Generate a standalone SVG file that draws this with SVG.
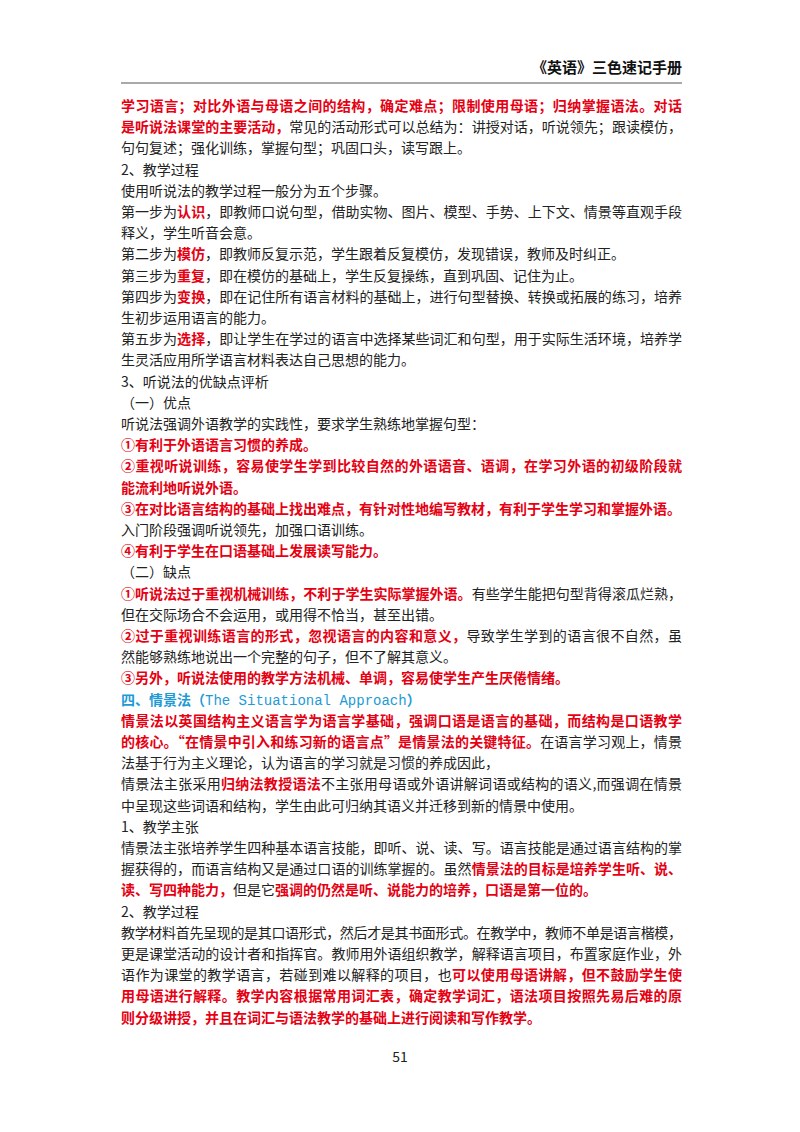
<svg xmlns="http://www.w3.org/2000/svg" width="800" height="1132" viewBox="0 0 800 1132">
<style>
text{font-family:"Noto Sans CJK SC","Liberation Sans",sans-serif;font-size:14px;fill:#222}
.r{fill:#e60012;font-weight:bold}
.b{fill:#1e9ad6;font-weight:bold}
.h{font-weight:bold;font-size:15px;fill:#111}
</style>
<rect width="800" height="1132" fill="#fff"/>
<text class="h" x="682" y="73" text-anchor="end">《英语》三色速记手册</text>
<line x1="121" y1="83" x2="682" y2="83" stroke="#555" stroke-width="1.2"/>
<g id="body">
<text x="121" y="111" textLength="561" lengthAdjust="spacing"><tspan class="r">学习语言；对比外语与母语之间的结构，确定难点；限制使用母语；归纳掌握语法。对话</tspan></text>
<text x="121" y="132.2" textLength="561" lengthAdjust="spacing"><tspan class="r">是听说法课堂的主要活动，</tspan>常见的活动形式可以总结为：讲授对话，听说领先；跟读模仿，</text>
<text x="121" y="153.4">句句复述；强化训练，掌握句型；巩固口头，读写跟上。</text>
<text x="121" y="174.6">2、教学过程</text>
<text x="121" y="195.8">使用听说法的教学过程一般分为五个步骤。</text>
<text x="121" y="217" textLength="561" lengthAdjust="spacing">第一步为<tspan class="r">认识</tspan>，即教师口说句型，借助实物、图片、模型、手势、上下文、情景等直观手段</text>
<text x="121" y="238.2">释义，学生听音会意。</text>
<text x="121" y="259.4">第二步为<tspan class="r">模仿</tspan>，即教师反复示范，学生跟着反复模仿，发现错误，教师及时纠正。</text>
<text x="121" y="280.6">第三步为<tspan class="r">重复</tspan>，即在模仿的基础上，学生反复操练，直到巩固、记住为止。</text>
<text x="121" y="301.8" textLength="561" lengthAdjust="spacing">第四步为<tspan class="r">变换</tspan>，即在记住所有语言材料的基础上，进行句型替换、转换或拓展的练习，培养</text>
<text x="121" y="323">生初步运用语言的能力。</text>
<text x="121" y="344.2" textLength="561" lengthAdjust="spacing">第五步为<tspan class="r">选择</tspan>，即让学生在学过的语言中选择某些词汇和句型，用于实际生活环境，培养学</text>
<text x="121" y="365.4">生灵活应用所学语言材料表达自己思想的能力。</text>
<text x="121" y="386.6">3、听说法的优缺点评析</text>
<text x="121" y="407.8">（一）优点</text>
<text x="121" y="429">听说法强调外语教学的实践性，要求学生熟练地掌握句型：</text>
<text x="121" y="450.2" class="r">①有利于外语语言习惯的养成。</text>
<text x="121" y="471.4" class="r" textLength="561" lengthAdjust="spacing">②重视听说训练，容易使学生学到比较自然的外语语音、语调，在学习外语的初级阶段就</text>
<text x="121" y="492.6" class="r">能流利地听说外语。</text>
<text x="121" y="513.8" class="r">③在对比语言结构的基础上找出难点，有针对性地编写教材，有利于学生学习和掌握外语。</text>
<text x="121" y="535">入门阶段强调听说领先，加强口语训练。</text>
<text x="121" y="556.2" class="r">④有利于学生在口语基础上发展读写能力。</text>
<text x="121" y="577.4">（二）缺点</text>
<text x="121" y="598.6" textLength="561" lengthAdjust="spacing"><tspan class="r">①听说法过于重视机械训练，不利于学生实际掌握外语。</tspan>有些学生能把句型背得滚瓜烂熟，</text>
<text x="121" y="619.8">但在交际场合不会运用，或用得不恰当，甚至出错。</text>
<text x="121" y="641" textLength="561" lengthAdjust="spacing"><tspan class="r">②过于重视训练语言的形式，忽视语言的内容和意义，</tspan>导致学生学到的语言很不自然，虽</text>
<text x="121" y="662.2">然能够熟练地说出一个完整的句子，但不了解其意义。</text>
<text x="121" y="683.4" class="r">③另外，听说法使用的教学方法机械、单调，容易使学生产生厌倦情绪。</text>
<text x="121" y="704.6" class="b">四、情景法（<tspan font-family="'Liberation Mono',monospace" font-weight="normal">The Situational Approach</tspan>）</text>
<text x="121" y="725.8" class="r" textLength="561" lengthAdjust="spacing">情景法以英国结构主义语言学为语言学基础，强调口语是语言的基础，而结构是口语教学</text>
<text x="121" y="747" textLength="561" lengthAdjust="spacing"><tspan class="r">的核心。“在情景中引入和练习新的语言点”是情景法的关键特征。</tspan>在语言学习观上，情景</text>
<text x="121" y="768.2">法基于行为主义理论，认为语言的学习就是习惯的养成因此，</text>
<text x="121" y="789.4" textLength="561" lengthAdjust="spacing">情景法主张采用<tspan class="r">归纳法教授语法</tspan>不主张用母语或外语讲解词语或结构的语义,而强调在情景</text>
<text x="121" y="810.6">中呈现这些词语和结构，学生由此可归纳其语义并迁移到新的情景中使用。</text>
<text x="121" y="831.8">1、教学主张</text>
<text x="121" y="853" textLength="561" lengthAdjust="spacing">情景法主张培养学生四种基本语言技能，即听、说、读、写。语言技能是通过语言结构的掌</text>
<text x="121" y="874.2" textLength="561" lengthAdjust="spacing">握获得的，而语言结构又是通过口语的训练掌握的。虽然<tspan class="r">情景法的目标是培养学生听、说、</tspan></text>
<text x="121" y="895.4"><tspan class="r">读、写四种能力，</tspan>但是它<tspan class="r">强调的仍然是听、说能力的培养，口语是第一位的。</tspan></text>
<text x="121" y="916.6">2、教学过程</text>
<text x="121" y="937.8" textLength="561" lengthAdjust="spacing">教学材料首先呈现的是其口语形式，然后才是其书面形式。在教学中，教师不单是语言楷模，</text>
<text x="121" y="959" textLength="561" lengthAdjust="spacing">更是课堂活动的设计者和指挥官。教师用外语组织教学，解释语言项目，布置家庭作业，外</text>
<text x="121" y="980.2" textLength="561" lengthAdjust="spacing">语作为课堂的教学语言，若碰到难以解释的项目，也<tspan class="r">可以使用母语讲解，但不鼓励学生使</tspan></text>
<text x="121" y="1001.4" class="r" textLength="561" lengthAdjust="spacing">用母语进行解释。教学内容根据常用词汇表，确定教学词汇，语法项目按照先易后难的原</text>
<text x="121" y="1022.6" class="r">则分级讲授，并且在词汇与语法教学的基础上进行阅读和写作教学。</text>
</g>
<text x="400" y="1062" text-anchor="middle" font-size="11">51</text>
</svg>
